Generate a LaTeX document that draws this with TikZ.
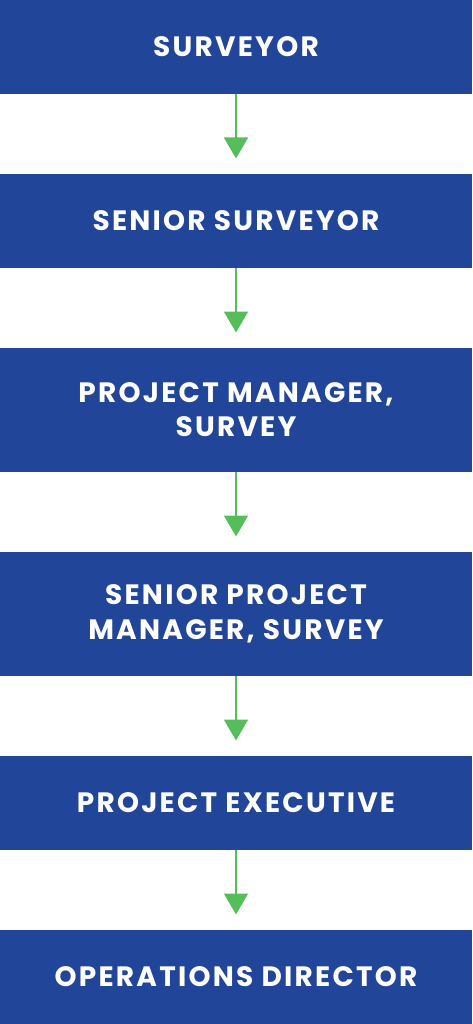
\documentclass[tikz,border=0pt]{standalone}
\usepackage{fontspec}
\setmainfont{Poppins}[LetterSpace=8]
\usetikzlibrary{arrows.meta}
\definecolor{boxblue}{RGB}{33,69,153}
\definecolor{arrgreen}{RGB}{85,190,90}
\tikzset{
  rolebox/.style={fill=boxblue, draw=none, minimum width=472pt, inner sep=0pt, anchor=north,
    text=white, font=\fontsize{28}{34.5}\selectfont\bfseries, align=center},
  arr/.style={draw=arrgreen, line width=1.8pt, -{Triangle[width=24pt,length=21pt]}, shorten >=15pt}
}
\begin{document}
\begin{tikzpicture}[x=1pt,y=1pt]
\useasboundingbox (0,0) rectangle (472,-1024);
\node[rolebox, minimum height=93.5pt] (b1) at (236,0) {SURVEYOR};
\node[rolebox, minimum height=94pt] (b2) at (236,-173.5) {SENIOR SURVEYOR};
\node[rolebox, minimum height=124pt] (b3) at (236,-347.5) {PROJECT MANAGER,\\SURVEY};
\node[rolebox, minimum height=124pt] (b4) at (236,-551.5) {SENIOR PROJECT\\MANAGER, SURVEY};
\node[rolebox, minimum height=94pt] (b5) at (236,-755.5) {PROJECT EXECUTIVE};
\node[rolebox, minimum height=94.5pt] (b6) at (236,-929.5) {OPERATIONS DIRECTOR};
\draw[arr] (b1) -- (b2);
\draw[arr] (b2) -- (b3);
\draw[arr] (b3) -- (b4);
\draw[arr] (b4) -- (b5);
\draw[arr] (b5) -- (b6);
\end{tikzpicture}
\end{document}
